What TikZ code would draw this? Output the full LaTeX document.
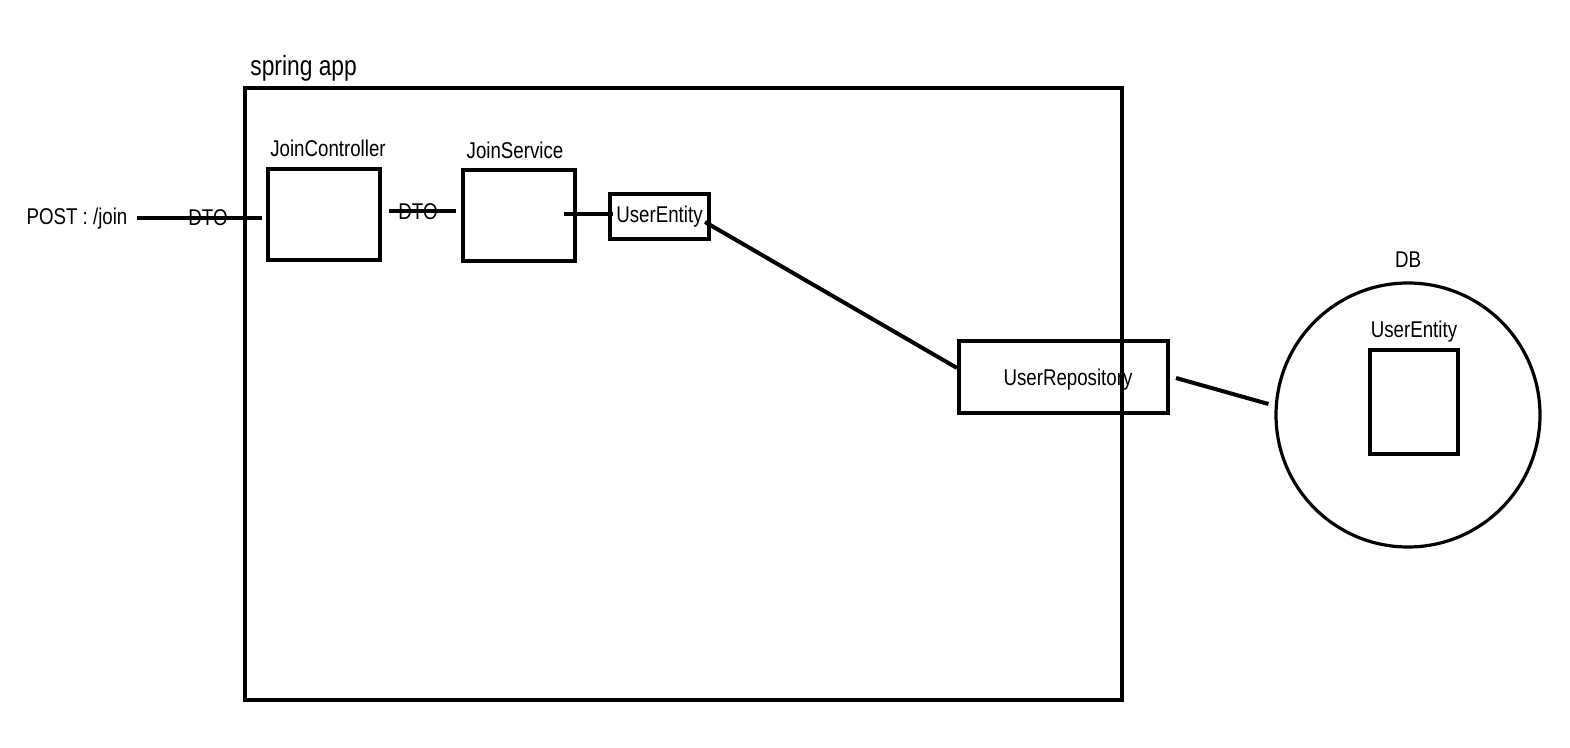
\documentclass[tikz,border=0pt]{standalone}
\usepackage{fontspec}
\setmainfont{Liberation Sans}[FakeStretch=0.82]
\begin{document}
\begin{tikzpicture}[x=0.5pt,y=-0.5pt,
  box/.style={draw=black,line width=2pt,rectangle,inner sep=0pt},
  lbl/.style={inner sep=0pt,font=\fontsize{11.4pt}{13pt}\selectfont},
  conn/.style={line width=2pt,draw=black}]
\useasboundingbox[fill=white] (0,0) rectangle (1570,748);
% containers and boxes
\node[box,minimum width=438.5pt,minimum height=306pt] (app) at (683.5,394) {};
\node[inner sep=0pt,anchor=west,font=\fontsize{13.9pt}{16pt}\selectfont] (applbl) at (250,68) {spring app};
\node[box,minimum width=56pt,minimum height=45.5pt] (jc) at (324,214.5) {};
\node[lbl] (jclbl) at (328,148) {JoinController};
\node[box,minimum width=56pt,minimum height=45.5pt] (js) at (519,215.5) {};
\node[lbl] (jslbl) at (515,150) {JoinService};
\node[box,minimum width=49.5pt,minimum height=22.5pt,font=\fontsize{11.4pt}{13pt}\selectfont] (ue) at (659.5,216.5) {UserEntity};
\node[box,minimum width=104.5pt,minimum height=36pt] (repo) at (1063.5,377) {};
\node[lbl] (repolbl) at (1068,380) {UserRepository};
\node[draw=black,line width=1.6pt,circle,minimum size=132pt,inner sep=0pt] (db) at (1408,415) {};
\node[lbl] (dblbl) at (1408,260) {DB};
\node[box,minimum width=44pt,minimum height=52pt] (dbue) at (1414,402) {};
\node[lbl] (dbuelbl) at (1414,332) {UserEntity};
% left texts
\node[lbl] (post) at (77,219) {POST : /join};
\node[lbl] (dto1) at (208,218) {DTO};
\node[lbl] (dto2) at (418,212) {DTO};
% connectors
\draw[conn] ([shift={(9,-1)}]post.east) -- ([shift={(-4,3.5)}]jc.west);
\draw[conn] ([shift={(7,-3.5)}]jc.east) -- ([shift={(-5,-4.5)}]js.west);
\draw[conn] ([shift={(-13,-1.5)}]js.east) -- ([shift={(5,-2.5)}]ue.west);
\draw[conn] ([shift={(-6,5.5)}]ue.east) -- ([shift={(0,-9)}]repo.west);
\draw[conn] ([shift={(6,1)}]repo.east) -- ([shift={(-6,-11)}]db.west);
\end{tikzpicture}
\end{document}
